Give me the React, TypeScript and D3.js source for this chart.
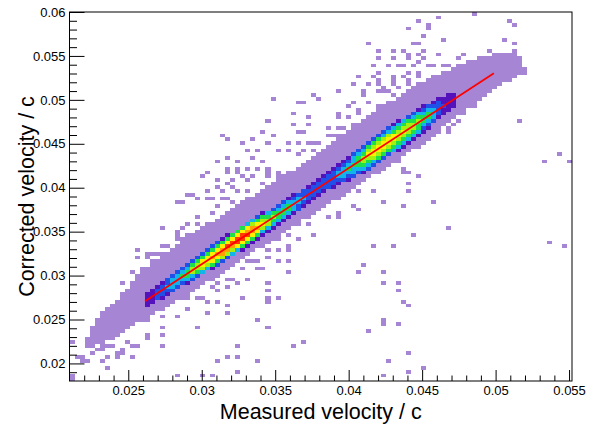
import React, { useEffect, useRef } from 'react';
import * as d3 from 'd3';

// ---------- data ----------
const X_RANGE: [number, number] = [0.021, 0.0552];
const Y_RANGE: [number, number] = [0.018, 0.06];
const N_BINS_X = 100;
const N_BINS_Y = 100;

const X_TICKS = [0.025, 0.03, 0.035, 0.04, 0.045, 0.05, 0.055];
const X_TICK_LABELS = ['0.025', '0.03', '0.035', '0.04', '0.045', '0.05', '0.055'];
const Y_TICKS = [0.02, 0.025, 0.03, 0.035, 0.04, 0.045, 0.05, 0.055, 0.06];
const Y_TICK_LABELS = ['0.02', '0.025', '0.03', '0.035', '0.04', '0.045', '0.05', '0.055', '0.06'];

const X_TITLE = 'Measured velocity / c';
const Y_TITLE = 'Corrected velocity / c';

// linear fit drawn in red
const FIT_X = [0.02614, 0.04988];
const FIT_Y = [0.02708, 0.05303];

// outline of the dense (lowest-level) band
const BAND_UPPER: [number, number][] = [
  [0.02205, 0.02273], [0.02308, 0.02568], [0.02444, 0.02773], [0.02613, 0.03068],
  [0.02852, 0.03375], [0.03076, 0.03625], [0.03307, 0.03875], [0.03532, 0.04114],
  [0.03756, 0.04364], [0.0394, 0.04591], [0.04144, 0.0484], [0.04348, 0.05057],
  [0.04552, 0.0525], [0.04709, 0.05364], [0.04892, 0.05489], [0.05029, 0.05534],
  [0.05185, 0.05511],
];
const BAND_LOWER: [number, number][] = [
  [0.05199, 0.05318], [0.05097, 0.05227], [0.05029, 0.05159], [0.0494, 0.05046],
  [0.04824, 0.04898], [0.04709, 0.04773], [0.046, 0.04614], [0.04484, 0.04466],
  [0.04369, 0.04352], [0.0426, 0.04227], [0.04144, 0.04114], [0.04028, 0.03989],
  [0.0392, 0.03864], [0.03756, 0.03704], [0.03532, 0.03443], [0.03307, 0.03216],
  [0.03076, 0.02955], [0.02852, 0.02727], [0.02613, 0.025], [0.02444, 0.02341],
  [0.02308, 0.02227], [0.02205, 0.02159],
];

// high-density ridge: peak colour level and half width (in y) along x
const CORE_X = [0.02627, 0.02695, 0.02784, 0.02886, 0.02988, 0.0309, 0.03192, 0.03294, 0.03382,
  0.03464, 0.03566, 0.03668, 0.03756, 0.03852, 0.0394, 0.04042, 0.04144, 0.04246, 0.04348,
  0.0445, 0.04539, 0.04621, 0.04689, 0.0473];
const CORE_PEAK = [2, 3, 4, 5, 7, 8, 9, 9, 8, 6, 5, 4, 3, 3, 4, 5, 7, 7, 7, 6, 5, 3, 2, 2];
const CORE_HW = [0.00068, 0.00091, 0.00102, 0.00114, 0.00125, 0.00136, 0.00136, 0.00148, 0.00136,
  0.00125, 0.00114, 0.00114, 0.00102, 0.00102, 0.00114, 0.00148, 0.0017, 0.0017, 0.0017,
  0.00159, 0.00148, 0.00125, 0.00102, 0.0008];

// isolated / fringe single-count cells
const STRAYS: [number, number][] = [
  [0.04666, 0.03531], [0.03763, 0.03439], [0.04428, 0.03439], [0.04156, 0.03349], [0.04301, 0.03349],
  [0.05357, 0.03378], [0.05475, 0.03318], [0.04094, 0.03106], [0.04062, 0.03045], [0.04246, 0.03045],
  [0.04246, 0.02898], [0.04333, 0.02898], [0.04333, 0.02841], [0.04362, 0.02716], [0.04394, 0.02659],
  [0.04246, 0.02508], [0.04246, 0.02451], [0.04333, 0.02451], [0.04124, 0.02356], [0.03675, 0.02239],
  [0.04394, 0.02117], [0.04273, 0.02026], [0.04394, 0.01909], [0.04514, 0.0194], [0.04246, 0.01878],
  [0.03736, 0.0358], [0.03668, 0.03602],
  [0.02736, 0.03531], [0.02886, 0.03557], [0.02988, 0.03568], [0.03076, 0.0358], [0.02831, 0.03466],
  [0.02899, 0.03466], [0.036, 0.03466], [0.02865, 0.03409], [0.02988, 0.03409], [0.03532, 0.03466],
  [0.03348, 0.03409], [0.03443, 0.03409], [0.03511, 0.03409], [0.02763, 0.03352], [0.036, 0.03352],
  [0.03328, 0.03295], [0.03443, 0.03273], [0.03532, 0.03273], [0.02695, 0.03239], [0.03192, 0.03239],
  [0.0326, 0.03216], [0.02559, 0.03273], [0.02627, 0.03216], [0.03328, 0.03159], [0.03511, 0.03148],
  [0.03192, 0.03068], [0.0328, 0.03068], [0.03579, 0.03045], [0.03076, 0.03011], [0.03124, 0.02932],
  [0.03192, 0.02955], [0.02444, 0.02932], [0.02988, 0.02875], [0.03076, 0.02875], [0.03239, 0.02898],
  [0.02852, 0.02818], [0.03443, 0.02818], [0.0292, 0.02727], [0.02988, 0.02727], [0.03103, 0.02704],
  [0.03532, 0.02727], [0.03171, 0.02648], [0.0328, 0.0275], [0.0292, 0.02636], [0.03035, 0.02579],
  [0.03171, 0.02579], [0.02831, 0.02534], [0.02736, 0.02534], [0.03396, 0.025], [0.02627, 0.025],
  [0.03443, 0.0242], [0.02736, 0.02409], [0.02988, 0.02409], [0.02627, 0.02295], [0.02736, 0.02307],
  [0.02716, 0.02182], [0.02491, 0.02239], [0.03239, 0.02182], [0.03192, 0.0208], [0.0326, 0.0208],
  [0.03375, 0.02011], [0.03124, 0.02023], [0.02831, 0.01875], [0.03008, 0.01875], [0.03076, 0.01875],
  [0.0326, 0.01909], [0.03613, 0.02204], [0.02423, 0.02068], [0.02355, 0.0208], [0.02117, 0.02239],
  [0.02151, 0.02068], [0.02192, 0.02045], [0.0226, 0.02125], [0.02308, 0.02159], [0.0224, 0.02295],
  [0.02355, 0.02193], [0.02287, 0.02307], [0.02376, 0.02273], [0.02117, 0.01852],
  [0.03498, 0.05], [0.03756, 0.05034], [0.03668, 0.04966], [0.0392, 0.04852], [0.03613, 0.04852],
  [0.03722, 0.04807], [0.03464, 0.0475], [0.0362, 0.04739], [0.03716, 0.04739], [0.03852, 0.04682],
  [0.03926, 0.04659], [0.03668, 0.04636], [0.03137, 0.04602], [0.0343, 0.04625], [0.03484, 0.04602],
  [0.03192, 0.04568], [0.03348, 0.04545], [0.03586, 0.04523], [0.03668, 0.04511], [0.0328, 0.04511],
  [0.03464, 0.04511], [0.03716, 0.04511], [0.0379, 0.04489], [0.03892, 0.04466], [0.03307, 0.04409],
  [0.03396, 0.04432], [0.03532, 0.04432], [0.036, 0.04409], [0.03668, 0.04398], [0.03756, 0.04409],
  [0.03171, 0.04341], [0.03348, 0.04352], [0.03103, 0.04284], [0.0326, 0.04318], [0.03409, 0.04295],
  [0.03171, 0.04227], [0.03239, 0.04205], [0.03307, 0.04227], [0.03375, 0.04205], [0.03443, 0.04205],
  [0.03511, 0.04182], [0.03035, 0.04182], [0.03008, 0.04125], [0.03205, 0.04091], [0.0328, 0.04125],
  [0.03348, 0.04114], [0.03443, 0.04114], [0.03124, 0.04], [0.03056, 0.03977], [0.03205, 0.04011],
  [0.0292, 0.0392], [0.02967, 0.03886], [0.03144, 0.03864], [0.03212, 0.03841], [0.02852, 0.0383],
  [0.03035, 0.03864], [0.02974, 0.0367], [0.02899, 0.0358], [0.0292, 0.03443], [0.02852, 0.03443],
  [0.02749, 0.03523], [0.02831, 0.03352], [0.02749, 0.03352], [0.02661, 0.03261], [0.02716, 0.03239],
  [0.02566, 0.03295], [0.02566, 0.03216], [0.02457, 0.02932], [0.02532, 0.03034], [0.02593, 0.03045],
  [0.02444, 0.0275],
  [0.03396, 0.03068], [0.03586, 0.03045], [0.03341, 0.03148], [0.03443, 0.02898], [0.03464, 0.02704],
  [0.03171, 0.02955], [0.03035, 0.02693], [0.03239, 0.02932], [0.03756, 0.03443], [0.0394, 0.0367],
  [0.03852, 0.0367],
  [0.04845, 0.05989], [0.04464, 0.05898], [0.04607, 0.05932], [0.04532, 0.05864], [0.04396, 0.0583],
  [0.04552, 0.05807], [0.05083, 0.05898], [0.05117, 0.05864], [0.04518, 0.05716], [0.04634, 0.05693],
  [0.05049, 0.05693], [0.04464, 0.05659], [0.04124, 0.05625], [0.0443, 0.05625], [0.04212, 0.05568],
  [0.04314, 0.05568], [0.04362, 0.05568], [0.04518, 0.05568], [0.04396, 0.05534], [0.04607, 0.05534],
  [0.04967, 0.05568], [0.05117, 0.05625], [0.0511, 0.05546], [0.04777, 0.05534], [0.0475, 0.05489],
  [0.04484, 0.055], [0.04219, 0.05455], [0.04301, 0.05455], [0.04403, 0.05455], [0.04505, 0.05455],
  [0.04586, 0.05409], [0.04158, 0.05386], [0.0426, 0.05375], [0.04362, 0.05375], [0.0445, 0.05398],
  [0.04484, 0.0542], [0.04668, 0.05375], [0.04722, 0.05341], [0.04396, 0.05318], [0.04062, 0.05261],
  [0.04165, 0.0525], [0.04294, 0.05261], [0.04484, 0.05284], [0.04573, 0.05284], [0.04634, 0.05261],
  [0.04124, 0.05182], [0.04042, 0.0517], [0.04212, 0.0517], [0.04294, 0.0517], [0.04396, 0.05193],
  [0.04464, 0.05182], [0.04518, 0.0517], [0.03926, 0.0508], [0.0411, 0.05057], [0.04246, 0.0508],
  [0.04314, 0.05068], [0.04403, 0.05091], [0.04028, 0.04966], [0.04144, 0.04966], [0.04212, 0.04943],
  [0.04008, 0.04909], [0.04076, 0.0483], [0.0394, 0.04795], [0.04028, 0.04716], [0.0394, 0.04659],
  [0.0392, 0.04602], [0.03852, 0.0458], [0.0394, 0.04523], [0.03852, 0.04455], [0.03824, 0.04409],
  [0.05212, 0.05318], [0.05029, 0.0517], [0.05144, 0.0475], [0.0545, 0.04398], [0.05321, 0.04307],
  [0.05505, 0.04307], [0.04845, 0.04943], [0.04777, 0.04864], [0.04722, 0.04739], [0.04532, 0.04568],
  [0.04484, 0.04455], [0.04335, 0.04284], [0.04362, 0.04182], [0.04464, 0.04125], [0.04396, 0.04034],
  [0.04403, 0.03977], [0.04158, 0.03977], [0.04062, 0.03977], [0.04008, 0.03955], [0.04226, 0.0383],
  [0.04362, 0.03784], [0.04573, 0.0383], [0.04028, 0.03807], [0.04062, 0.03773], [0.0392, 0.03716],
  [0.03824, 0.03807], [0.04505, 0.0458], [0.04362, 0.04205],
  // fringe above the band (middle-left)
  [0.03056, 0.0417], [0.03192, 0.0417], [0.0326, 0.04182], [0.03348, 0.04148], [0.03443, 0.0417],
  [0.03511, 0.04125], [0.036, 0.0417], [0.03648, 0.04125], [0.03103, 0.04068], [0.03192, 0.04057],
  [0.03307, 0.04068], [0.03409, 0.04057], [0.03579, 0.04057], [0.03042, 0.03977], [0.03144, 0.03955],
  [0.03239, 0.03943], [0.03328, 0.03977], [0.03464, 0.03943], [0.0362, 0.03977], [0.02933, 0.0392],
  [0.0307, 0.03864], [0.03192, 0.03864], [0.0328, 0.03841], [0.03375, 0.03864], [0.03511, 0.03864],
  [0.02865, 0.0383], [0.03124, 0.03784], [0.0326, 0.03773], [0.03443, 0.03807], [0.02988, 0.0367],
  [0.03076, 0.03716], [0.03192, 0.0367], [0.03328, 0.03716], [0.02736, 0.03523], [0.02838, 0.03489],
  [0.0292, 0.03602], [0.03001, 0.03557], [0.02831, 0.03409], [0.0292, 0.03432], [0.02749, 0.03352],
  [0.02647, 0.03261], [0.02566, 0.03273], [0.02729, 0.03239], [0.0258, 0.03068], [0.02634, 0.03045],
  [0.02545, 0.02989], [0.02668, 0.03148],
  // fringe below the band (middle-left)
  [0.036, 0.03466], [0.03648, 0.03409], [0.03511, 0.03295], [0.036, 0.03295], [0.03464, 0.03205],
  [0.03375, 0.03159], [0.03579, 0.03148], [0.03416, 0.03068], [0.0328, 0.03068], [0.03212, 0.02955],
  [0.03314, 0.02955], [0.03124, 0.02932], [0.03192, 0.02875], [0.03103, 0.02841], [0.03294, 0.02761],
  [0.0302, 0.02761], [0.03443, 0.02761], [0.02967, 0.02955],
  // fringe above the band (upper-right)
  [0.04212, 0.05546], [0.04396, 0.05534], [0.04505, 0.05489], [0.046, 0.05534], [0.04777, 0.05511],
  [0.04158, 0.05398], [0.0426, 0.05398], [0.04348, 0.05375], [0.04464, 0.0542], [0.04532, 0.05398],
  [0.04654, 0.05375], [0.04736, 0.05341], [0.04804, 0.0542], [0.04212, 0.05318], [0.04369, 0.05284],
  [0.04471, 0.05307], [0.04573, 0.05284], [0.04777, 0.05284], [0.04062, 0.05261], [0.04199, 0.05227],
  [0.04301, 0.05205], [0.04416, 0.05205], [0.04505, 0.05193], [0.04621, 0.05227], [0.04028, 0.0517],
  [0.04124, 0.05193], [0.04246, 0.05148], [0.04348, 0.05136], [0.0392, 0.0508], [0.04097, 0.0508],
  [0.04192, 0.05114], [0.0428, 0.0508], [0.04028, 0.04966], [0.04144, 0.04966], [0.03784, 0.05023],
  [0.03681, 0.04966], [0.0392, 0.04852], [0.04056, 0.04886], [0.04008, 0.04807], [0.03736, 0.04807],
  [0.03852, 0.04682], [0.03954, 0.04659], [0.03702, 0.04625], [0.03892, 0.04602], [0.0377, 0.04511],
  [0.03886, 0.04455], [0.03681, 0.04432], [0.03756, 0.04432], [0.03852, 0.04432],
  [0.04348, 0.04284], [0.04416, 0.04182], [0.04464, 0.04125], [0.04688, 0.04693], [0.04736, 0.0475],
  [0.04668, 0.04625],
  // lower-left tail
  [0.02124, 0.02239], [0.02171, 0.02068], [0.02205, 0.02045], [0.0226, 0.02125], [0.02287, 0.02159],
  [0.0226, 0.02239], [0.02294, 0.02295], [0.02328, 0.02307], [0.02396, 0.02273], [0.02308, 0.02216],
  [0.02376, 0.02193], [0.02423, 0.02125], [0.02457, 0.02102], [0.02328, 0.02023], [0.02355, 0.01932],
  [0.02444, 0.02159], [0.02511, 0.02193], [0.02559, 0.02216], [0.02627, 0.02273], [0.02525, 0.0208],
  [0.02634, 0.02307], [0.02117, 0.01841],
];

// colour levels (lowest = lavender ... highest = red)
const LEVEL_COLORS = ['#ffffff', '#a685d4', '#5412bd', '#2050e8', '#12b5ea', '#1ee04a', '#a6f010', '#fff000', '#ffa000', '#ff3c00'];

const FONT = "'Liberation Sans', Arial, Helvetica, sans-serif";

export default function App() {
  const ref = useRef<SVGSVGElement>(null);

  useEffect(() => {
    const svg = d3.select(ref.current);
    svg.selectAll('*').remove();

    const left = 69.5, right = 572, top = 12, bottom = 381;
    const x = d3.scaleLinear().domain(X_RANGE).range([left, right]);
    const y = d3.scaleLinear().domain(Y_RANGE).range([bottom, top]);

    const bw = (X_RANGE[1] - X_RANGE[0]) / N_BINS_X;
    const bh = (Y_RANGE[1] - Y_RANGE[0]) / N_BINS_Y;

    const polygon: [number, number][] = [...BAND_UPPER, ...BAND_LOWER];
    const fit = d3.scaleLinear().domain(FIT_X).range(FIT_Y);
    const peak = d3.scaleLinear().domain(CORE_X).range(CORE_PEAK);
    const halfw = d3.scaleLinear().domain(CORE_X).range(CORE_HW);

    const levels: number[][] = [];
    for (let i = 0; i < N_BINS_X; i++) {
      levels.push(new Array(N_BINS_Y).fill(0));
      const cx = X_RANGE[0] + (i + 0.5) * bw;
      for (let j = 0; j < N_BINS_Y; j++) {
        const cy = Y_RANGE[0] + (j + 0.5) * bh;
        let lv = 0;
        if (d3.polygonContains(polygon, [cx, cy])) lv = 1;
        if (cx >= CORE_X[0] && cx <= CORE_X[CORE_X.length - 1]) {
          const d = Math.abs(cy - fit(cx));
          const h = halfw(cx);
          if (d < h) {
            const p = peak(cx);
            lv = Math.max(lv, Math.round(2 + (p - 2) * (1 - Math.pow(d / h, 1.5))));
          }
        }
        levels[i][j] = lv;
      }
    }
    STRAYS.forEach(([sx, sy]) => {
      const i = Math.floor((sx - X_RANGE[0]) / bw);
      const j = Math.floor((sy - Y_RANGE[0]) / bh);
      if (i >= 0 && i < N_BINS_X && j >= 0 && j < N_BINS_Y) levels[i][j] = Math.max(levels[i][j], 1);
    });

    const cells: { i: number; j: number; lv: number }[] = [];
    levels.forEach((col, i) => col.forEach((lv, j) => { if (lv > 0) cells.push({ i, j, lv }); }));

    svg.append('g')
      .attr('shape-rendering', 'crispEdges')
      .selectAll('rect')
      .data(cells)
      .join('rect')
      .attr('x', (d) => x(X_RANGE[0] + d.i * bw))
      .attr('y', (d) => y(Y_RANGE[0] + (d.j + 1) * bh))
      .attr('width', (d) => x(X_RANGE[0] + (d.i + 1) * bw) - x(X_RANGE[0] + d.i * bw))
      .attr('height', (d) => y(Y_RANGE[0] + d.j * bh) - y(Y_RANGE[0] + (d.j + 1) * bh))
      .attr('fill', (d) => LEVEL_COLORS[Math.min(d.lv, LEVEL_COLORS.length - 1)]);

    // fit line
    svg.append('path')
      .attr('d', d3.line<number>().x((d) => x(d)).y((d) => y(fit(d)))(FIT_X) as string)
      .attr('stroke', '#ff0000')
      .attr('stroke-width', 1.8)
      .attr('fill', 'none');

    // axes
    const xMinor = d3.range(22, 56).map((v) => v / 1000).filter((v) => v <= X_RANGE[1] && !X_TICKS.some((t) => Math.abs(t - v) < 1e-9));
    const yMinor = d3.range(19, 61).map((v) => v / 1000).filter((v) => v >= Y_RANGE[0] && !Y_TICKS.some((t) => Math.abs(t - v) < 1e-9));

    const style = (g: d3.Selection<SVGGElement, unknown, null, undefined>) => {
      g.select('.domain').remove();
      g.selectAll('line').attr('stroke', '#000').attr('stroke-width', 1);
      g.selectAll('text').attr('font-family', FONT).attr('font-size', 13).attr('fill', '#000');
    };

    svg.append('g').attr('transform', `translate(0,${bottom})`)
      .call(d3.axisBottom(x).tickValues(xMinor).tickFormat(() => '').tickSize(-5.5))
      .call(style);
    svg.append('g').attr('transform', `translate(0,${bottom})`)
      .call(d3.axisBottom(x).tickValues(X_TICKS).tickFormat((_, i) => X_TICK_LABELS[i]).tickSize(-11).tickPadding(5))
      .call(style);
    svg.append('g').attr('transform', `translate(${left},0)`)
      .call(d3.axisLeft(y).tickValues(yMinor).tickFormat(() => '').tickSize(-7.5))
      .call(style);
    svg.append('g').attr('transform', `translate(${left},0)`)
      .call(d3.axisLeft(y).tickValues(Y_TICKS).tickFormat((_, i) => Y_TICK_LABELS[i]).tickSize(-15).tickPadding(4))
      .call(style);

    // frame
    svg.append('rect')
      .attr('x', left).attr('y', top)
      .attr('width', right - left).attr('height', bottom - top)
      .attr('fill', 'none').attr('stroke', '#000').attr('stroke-width', 1);

    // titles
    svg.append('text')
      .attr('x', (left + right) / 2).attr('y', 419)
      .attr('text-anchor', 'middle')
      .attr('font-family', FONT).attr('font-size', 21.5)
      .text(X_TITLE);
    svg.append('text')
      .attr('transform', `translate(34,${(top + bottom) / 2}) rotate(-90)`)
      .attr('text-anchor', 'middle')
      .attr('font-family', FONT).attr('font-size', 21.5)
      .text(Y_TITLE);
  }, []);

  return (
    <svg
      ref={ref}
      width={594}
      height={425}
      style={{ position: 'absolute', left: 0, top: 0, background: '#fff' }}
    />
  );
}
